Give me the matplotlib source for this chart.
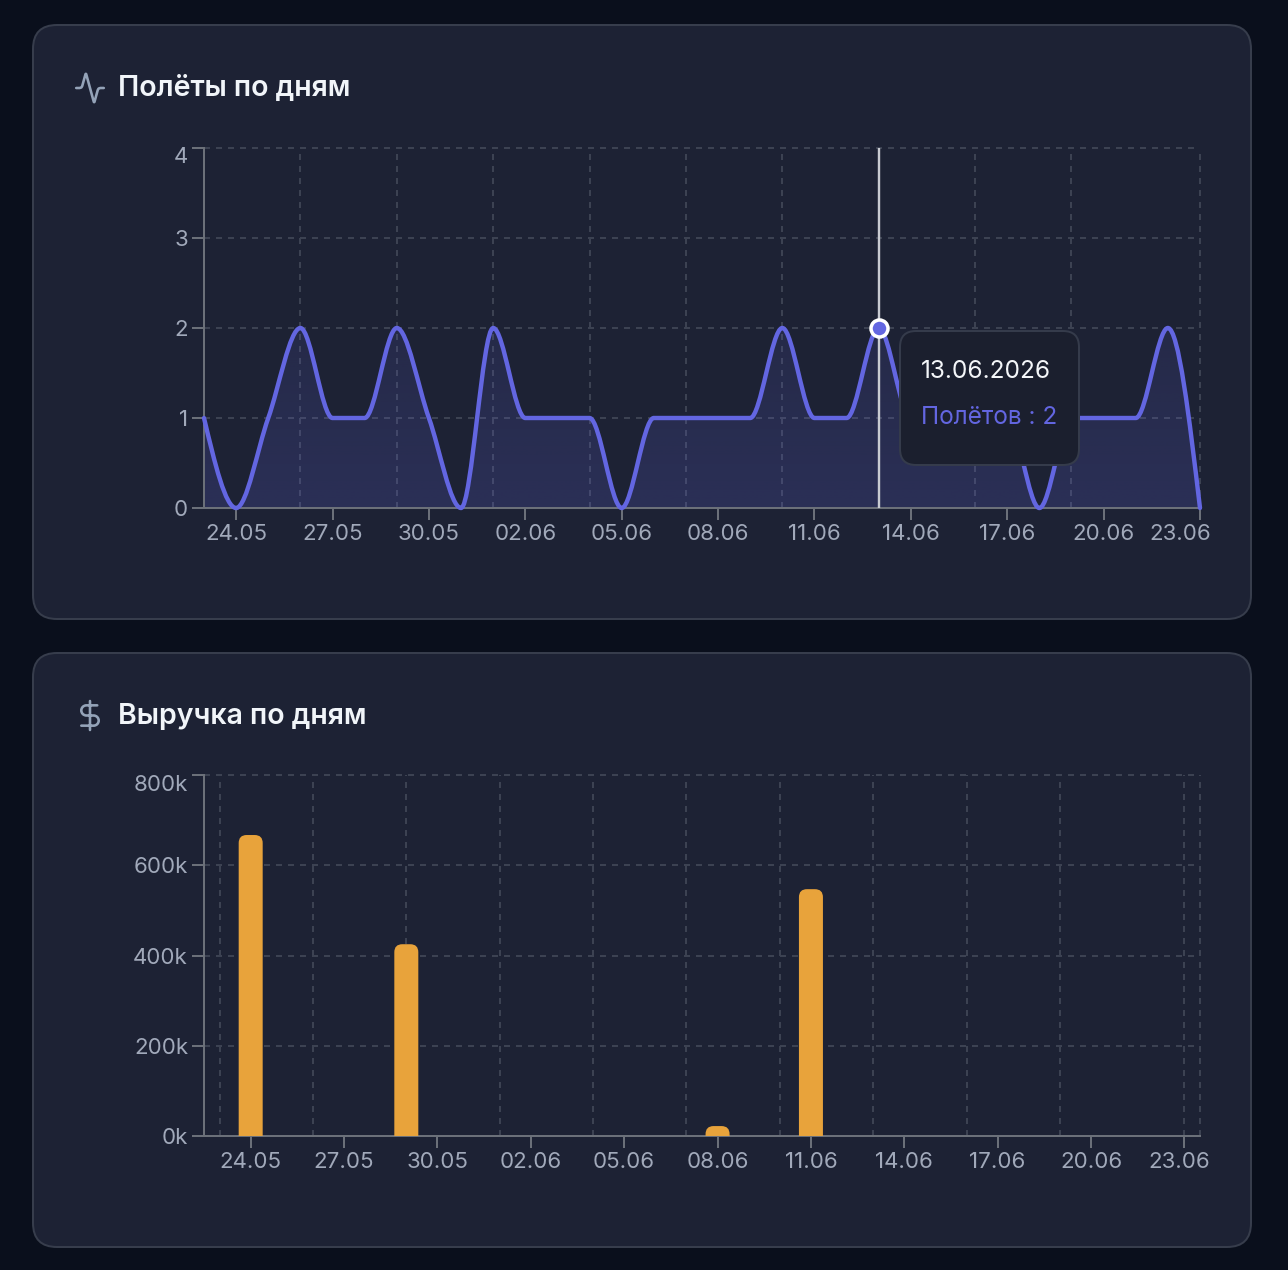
import numpy as np
import matplotlib
matplotlib.use('Agg')
import matplotlib.pyplot as plt
from matplotlib.patches import FancyBboxPatch, PathPatch
from matplotlib.path import Path
from matplotlib.transforms import ScaledTranslation

plt.rcParams['font.family'] = ['Inter', 'DejaVu Sans']
plt.rcParams['lines.scale_dashes'] = False

days = ['23.05', '24.05', '25.05', '26.05', '27.05', '28.05', '29.05', '30.05',
        '31.05', '01.06', '02.06', '03.06', '04.06', '05.06', '06.06', '07.06',
        '08.06', '09.06', '10.06', '11.06', '12.06', '13.06', '14.06', '15.06',
        '16.06', '17.06', '18.06', '19.06', '20.06', '21.06', '22.06', '23.06']
flights = [1, 0, 1, 2, 1, 1, 2, 1, 0, 2, 1, 1, 1, 0, 1, 1,
           1, 1, 2, 1, 1, 2, 1, 1, 1, 1, 0, 1, 1, 1, 2, 0]
revenue = [0, 667000, 0, 0, 0, 0, 425000, 0, 0, 0, 0, 0, 0, 0, 0, 0,
           22000, 0, 0, 547000, 0, 0, 0, 0, 0, 0, 0, 0, 0, 0, 0, 0]
flight_ticks = [0, 1, 2, 3, 4]
revenue_ticks = [0, 200000, 400000, 600000, 800000]
day_ticks = [1, 4, 7, 10, 13, 16, 19, 22, 25, 28, 31]
line_grid_days = [0, 3, 6, 9, 12, 15, 18, 21, 24, 27, 31]
bar_grid_days = [0, 3, 6, 9, 12, 15, 18, 21, 24, 27, 31]
hover_day = 21

W, H = 1288, 1270
PAGE = '#0a0f1c'
CARD = '#1d2234'
EDGE = '#373d4c'
GRID = '#3c4252'
AXIS = '#6b7079'
TICK = '#a1a9ba'
INDIGO = '#6366e1'
AMBER = '#e8a33b'
TITLE = '#f1f5f9'
ICON = '#94a3b8'
PX = 72 / 100  # one pixel in points
TICK_SIZE = 22.3 * PX
TITLE_SIZE = 28.5 * PX


def place_axes(fig, left, top, right, bottom):
    ax = fig.add_axes([left / W, 1 - bottom / H, (right - left) / W, (bottom - top) / H])
    ax.set_facecolor('none')
    for side in ['top', 'right']:
        ax.spines[side].set_visible(False)
    for side in ['left', 'bottom']:
        ax.spines[side].set_color(AXIS)
        ax.spines[side].set_linewidth(2 * PX)
    ax.tick_params(length=12 * PX, width=2 * PX, color=AXIS, labelcolor=TICK,
                   labelsize=TICK_SIZE, pad=4 * PX)
    return ax


def shift_label(fig, label, dx, dy):
    label.set_transform(label.get_transform()
                        + ScaledTranslation(dx / 100, dy / 100, fig.dpi_scale_trans))


def draw_grid(ax, xs, ys):
    for x in xs:
        ax.axvline(x, color=GRID, lw=2 * PX, ls=(0, (6 * PX, 6 * PX)), zorder=1, clip_on=False)
    for y in ys:
        ax.axhline(y, color=GRID, lw=2 * PX, ls=(0, (6 * PX, 6 * PX)), zorder=1, clip_on=False)


def monotone_path(xs, ys):
    # same construction as d3 curveMonotoneX
    xs, ys = np.asarray(xs, float), np.asarray(ys, float)
    n = len(xs)
    t = np.zeros(n)
    for i in range(1, n - 1):
        h0, h1 = xs[i] - xs[i - 1], xs[i + 1] - xs[i]
        s0, s1 = (ys[i] - ys[i - 1]) / h0, (ys[i + 1] - ys[i]) / h1
        p = (s0 * h1 + s1 * h0) / (h0 + h1)
        t[i] = (np.sign(s0) + np.sign(s1)) * min(abs(s0), abs(s1), 0.5 * abs(p))
    t[0] = (3 * (ys[1] - ys[0]) / (xs[1] - xs[0]) - t[1]) / 2
    t[-1] = (3 * (ys[-1] - ys[-2]) / (xs[-1] - xs[-2]) - t[-2]) / 2
    verts = [(xs[0], ys[0])]
    codes = [Path.MOVETO]
    for i in range(n - 1):
        d = (xs[i + 1] - xs[i]) / 3
        verts += [(xs[i] + d, ys[i] + d * t[i]),
                  (xs[i + 1] - d, ys[i + 1] - d * t[i + 1]),
                  (xs[i + 1], ys[i + 1])]
        codes += [Path.CURVE4] * 3
    return verts, codes


def round_top_bar(x, value, width, rx, ry):
    left, right = x - width / 2, x + width / 2
    top = value
    ry = min(ry, value)
    verts = [(left, 0), (left, top - ry), (left, top), (left + rx, top),
             (right - rx, top), (right, top), (right, top - ry), (right, 0), (left, 0)]
    codes = [Path.MOVETO, Path.LINETO, Path.CURVE3, Path.CURVE3,
             Path.LINETO, Path.CURVE3, Path.CURVE3, Path.LINETO, Path.CLOSEPOLY]
    return Path(verts, codes)


fig = plt.figure(figsize=(W / 100, H / 100), dpi=100, facecolor=PAGE)

# page layer in pixel coordinates: cards, icons, titles
bg = fig.add_axes([0, 0, 1, 1], zorder=0)
bg.set_xlim(0, W)
bg.set_ylim(H, 0)
bg.axis('off')

for top, bottom in [(25, 619), (653, 1247)]:
    bg.add_patch(FancyBboxPatch((33, top), 1218, bottom - top,
                                boxstyle='round,pad=0,rounding_size=24',
                                fc=CARD, ec=EDGE, lw=2 * PX))

bg.text(118, 88.5, 'Полёты по дням', color=TITLE, fontsize=TITLE_SIZE, fontweight='semibold',
        va='center', ha='left')
bg.text(118, 716.5, 'Выручка по дням', color=TITLE, fontsize=TITLE_SIZE, fontweight='semibold',
        va='center', ha='left')

# activity icon
pulse_u = [2, 4.5, 5.8, 6.4, 8.76, 9, 9.24, 14.76, 15, 15.24, 17.6, 18.2, 19.5, 22]
pulse_v = [12, 12, 11.6, 10.5, 2.2, 2, 2.2, 21.8, 22, 21.8, 13.5, 12.4, 12, 12]
bg.plot([90 + (u - 12) * 1.38 for u in pulse_u], [88 + (v - 12) * 1.42 for v in pulse_v],
        color=ICON, lw=2.6 * PX, solid_joinstyle='round', solid_capstyle='round')

# dollar icon
k = 3.5 * 0.5523
dollar_verts = [(17, 5), (9.5, 5),
                (9.5 - k, 5), (6, 8.5 - k), (6, 8.5),
                (6, 8.5 + k), (9.5 - k, 12), (9.5, 12),
                (14.5, 12),
                (14.5 + k, 12), (18, 15.5 - k), (18, 15.5),
                (18, 15.5 + k), (14.5 + k, 19), (14.5, 19),
                (6, 19), (12, 2), (12, 22)]
dollar_codes = [Path.MOVETO, Path.LINETO] + [Path.CURVE4] * 6 + [Path.LINETO] + [Path.CURVE4] * 6 \
    + [Path.LINETO, Path.MOVETO, Path.LINETO]
bg.add_patch(PathPatch(Path([(90 + (u - 12) * 1.45, 715.5 + (v - 12) * 1.45) for u, v in dollar_verts],
                           dollar_codes),
                       fc='none', ec=ICON, lw=2.6 * PX, capstyle='round', joinstyle='round'))

# flights per day
ax1 = place_axes(fig, 204, 148, 1200, 508)
ax1.set_zorder(1)
x_days = np.arange(len(days))
ax1.set_xlim(0, len(days) - 1)
ax1.set_ylim(0, 4)
ax1.set_xticks(day_ticks, [days[i] for i in day_ticks])
ax1.set_yticks(flight_ticks, [str(v) for v in flight_ticks])
draw_grid(ax1, line_grid_days, flight_ticks[1:])

verts, codes = monotone_path(x_days, flights)
area_path = Path(verts + [(x_days[-1], 0), (x_days[0], 0), verts[0]],
                 codes + [Path.LINETO, Path.LINETO, Path.CLOSEPOLY])
shade = np.zeros((256, 2, 4))
shade[..., :3] = matplotlib.colors.to_rgb(INDIGO)
shade[..., 3] = np.linspace(0.12, 0.20, 256)[:, None]
img = ax1.imshow(shade, extent=(0, len(days) - 1, 0, 2), origin='upper', aspect='auto', zorder=2)
img.set_clip_path(PathPatch(area_path, transform=ax1.transData))
ax1.set_xlim(0, len(days) - 1)
ax1.set_ylim(0, 4)
ax1.add_patch(PathPatch(Path(verts, codes), fc='none', ec=INDIGO, lw=4.4 * PX, zorder=3,
                        clip_on=False, capstyle='round', joinstyle='round'))

ax1.axvline(hover_day, color='#c8cbd1', lw=2.4 * PX, zorder=4)
ax1.plot([hover_day], [flights[hover_day]], 'o', ms=17 * PX, mfc=INDIGO, mec='white',
         mew=3.5 * PX, zorder=5, clip_on=False)

# revenue per day
ax2 = place_axes(fig, 204, 775, 1200, 1136)
ax2.set_zorder(1)
ax2.set_xlim(-0.5, len(days) - 0.5)
ax2.set_ylim(0, 800000)
ax2.set_xticks(day_ticks, [days[i] for i in day_ticks])
ax2.set_yticks(revenue_ticks, [f'{v // 1000}k' for v in revenue_ticks])
draw_grid(ax2, bar_grid_days, revenue_ticks[1:])
ax2.axvline(len(days) - 0.5, color=GRID, lw=2 * PX, ls=(0, (6 * PX, 6 * PX)), zorder=1, clip_on=False)

bar_w = 24 / (996 / len(days))
rx = 8 / (996 / len(days))
ry = 8 * 800000 / 361
for i, v in enumerate(revenue):
    if v > 0:
        ax2.add_patch(PathPatch(round_top_bar(i, v, bar_w, rx, ry), fc=AMBER, ec='none', zorder=3))

# first and last labels are pushed back inside the plot
shift_label(fig, ax1.get_yticklabels()[-1], 0, -7)
shift_label(fig, ax2.get_yticklabels()[-1], 0, -8)
shift_label(fig, ax1.get_xticklabels()[-1], -20, 0)
shift_label(fig, ax2.get_xticklabels()[-1], -5, 0)

# tooltip on top of everything
top_layer = fig.add_axes([0, 0, 1, 1], zorder=3)
top_layer.set_xlim(0, W)
top_layer.set_ylim(H, 0)
top_layer.axis('off')
top_layer.add_patch(FancyBboxPatch((900, 331), 179, 134,
                                   boxstyle='round,pad=0,rounding_size=16',
                                   fc='#1b1f2e', ec='#353b4b', lw=2 * PX))
top_layer.text(921, 371.5, '13.06.2026', color='#f4f6f9', fontsize=24.4 * PX, va='center', ha='left')
top_layer.text(921, 417.5, f'Полётов : {flights[hover_day]}', color=INDIGO, fontsize=24.4 * PX,
               va='center', ha='left')

fig.savefig('out.png', dpi=100, facecolor=fig.get_facecolor())
